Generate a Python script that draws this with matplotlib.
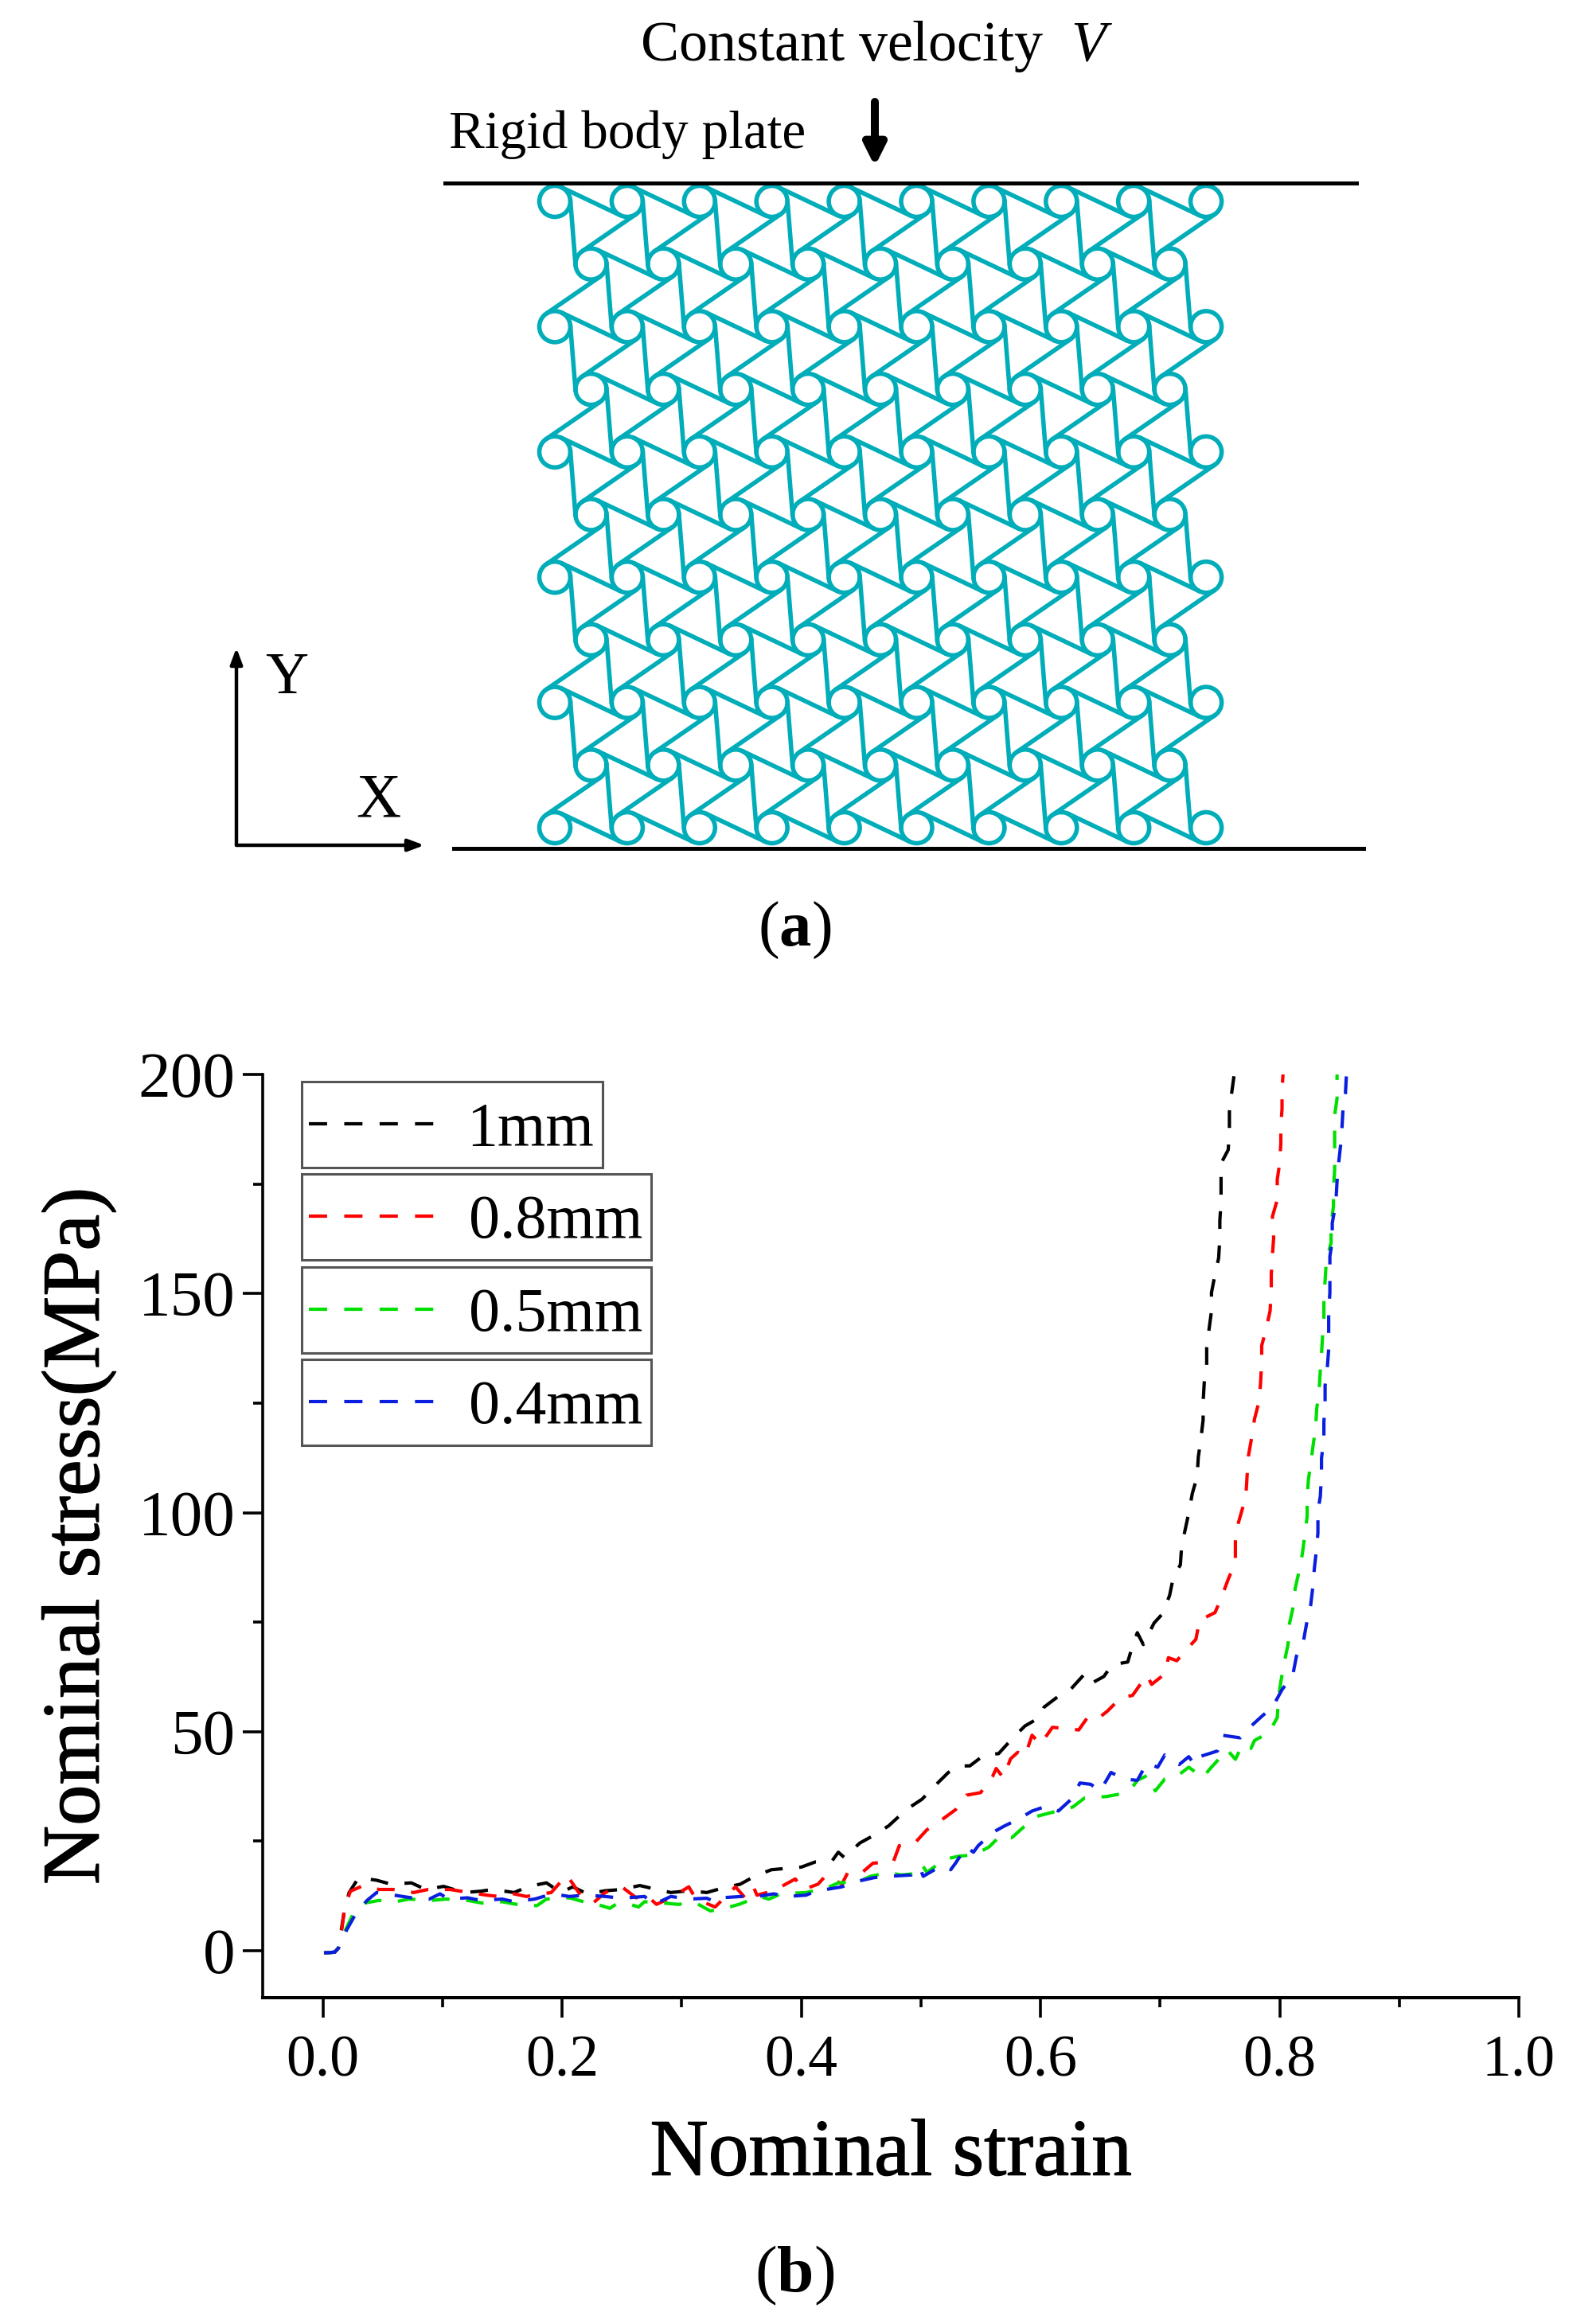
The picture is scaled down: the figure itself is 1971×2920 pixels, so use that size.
import numpy as np
import matplotlib
matplotlib.use('Agg')
import matplotlib.pyplot as plt
import matplotlib.patheffects as pe
from matplotlib.patches import Circle, Rectangle
from matplotlib.ticker import MultipleLocator

plt.rcParams['font.family'] = ['Liberation Serif', 'DejaVu Serif']
plt.rcParams['mathtext.fontset'] = 'custom'
plt.rcParams['mathtext.rm'] = 'Liberation Serif'
plt.rcParams['mathtext.it'] = 'Liberation Serif:italic'
plt.rcParams['mathtext.bf'] = 'Liberation Serif:bold'
plt.rcParams['lines.scale_dashes'] = False

W, H = 1971, 2920
TEAL = '#00adb9'

# curves
strain_1mm = [.001, .010, .013, .018, .022, .030, .045, .057, .074, .086, .101, .118, .132, .142, .160, .172, .187, .199,
              .209, .221, .236, .250, .265, .279, .291, .306, .321, .334, .349, .361, .375, .387, .400, .412, .426, .431,
              .436, .449, .459, .473, .483, .491, .501, .513, .523, .532, .541, .553, .565, .576, .587, .599, .603, .616,
              .625, .636, .641, .653, .660, .673, .676, .681, .686, .695, .702, .708, .711, .717, .718, .721, .724, .727,
              .731, .732, .734, .736, .736, .737, .739, .739, .741, .743, .743, .746, .749, .750, .750, .751, .751, .751,
              .757, .758, .758, .760, .762, .763]
stress_1mm = [-.5, -.3, .6, 9.1, 13.3, 16.7, 16.1, 15.2, 15.5, 14, 14.7, 13.3, 13.6, 14, 13.3, 14.7, 15.5, 13.3,
              14.6, 13, 13.7, 14, 14.9, 14, 13.3, 13.7, 13.3, 14.3, 15.2, 17, 18.5, 18.8, 19.1, 20.3, 20.6, 22.5,
              21.3, 24.6, 26.1, 28.5, 31, 32.8, 34.6, 38, 40.7, 42.2, 42.2, 44.7, 45, 48.3, 51.3, 53.2, 55.6, 58.3,
              59.6, 62.9, 60.8, 62.6, 65.3, 65.9, 68.7, 72.6, 69.9, 74.8, 76.9, 81.1, 85.1, 88.1, 92.1, 96.1, 99.9, 104.4,
              108.2, 112.7, 116.5, 121.1, 125.2, 129.8, 133.6, 137.7, 141.9, 146, 150.2, 154.4, 158.1, 162.7, 166.6, 171, 175.2, 179.7,
              182.8, 187.3, 191.5, 196, 200, 204]

strain_08mm = [.001, .010, .013, .016, .018, .023, .034, .047, .059, .076, .088, .106, .118, .137, .147, .160, .170, .191,
               .204, .214, .226, .236, .250, .262, .270, .279, .291, .306, .312, .328, .345, .353, .360, .363, .377, .395,
               .402, .414, .421, .434, .439, .451, .460, .477, .482, .495, .505, .517, .529, .538, .550, .560, .563, .569,
               .575, .581, .587, .593, .600, .610, .622, .632, .640, .649, .656, .667, .677, .689, .693, .704, .707, .714,
               .720, .730, .733, .746, .752, .757, .763, .763, .765, .769, .772, .773, .774, .777, .779, .783, .784, .785,
               .785, .789, .792, .793, .793, .794, .795, .794, .798, .798, .800, .801, .801, .802, .802, .803]
stress_08mm = [-.5, -.3, .6, 5.1, 9.4, 13.6, 14.9, 14, 14, 13.3, 14, 14, 13.5, 12.7, 12.4, 13, 12.4, 13.3,
               17.3, 13.3, 10.9, 13.3, 14.6, 12.1, 12.8, 10.6, 12.1, 14.6, 11.8, 10, 14.6, 12.1, 14.6, 12.7, 13.7, 16.4,
               14, 15.2, 17.3, 15.2, 17.9, 17.9, 20, 20.3, 24, 24.6, 27.6, 29.8, 32.2, 35.5, 36.1, 39.8, 41.6, 39.5,
               43.8, 45.3, 44.4, 49.2, 47.1, 51, 50.7, 50.4, 53.5, 53.2, 54.7, 57.7, 58.3, 62.9, 60.8, 63.2, 66.9, 66.2,
               68.1, 71.1, 75.4, 77.2, 81.1, 84.8, 88.7, 93.4, 97.2, 101, 104.8, 109.3, 113.1, 117.7, 121.4, 125.6, 129.4, 134.3,
               138.1, 142.3, 146, 150.6, 154.4, 158.9, 162.7, 167.6, 171.4, 176, 179.7, 184.3, 188, 192.2, 196.4, 200.9]

strain_05mm = [.001, .010, .013, .019, .025, .035, .047, .061, .072, .091, .103, .121, .133, .150, .162, .179, .187, .206,
               .218, .233, .240, .245, .257, .264, .269, .285, .297, .312, .324, .336, .348, .365, .373, .383, .404, .421,
               .431, .448, .458, .473, .483, .495, .501, .505, .520, .532, .545, .557, .567, .576, .587, .597, .627, .637,
               .655, .667, .676, .681, .690, .696, .704, .714, .724, .736, .741, .747, .756, .763, .769, .776, .779, .791,
               .798, .799, .801, .804, .807, .808, .811, .813, .816, .819, .823, .823, .824, .826, .828, .830, .831, .833,
               .834, .835, .836, .837, .837, .838, .839, .843, .843, .845, .845, .846, .846, .846, .846, .848, .848, .848]
stress_05mm = [-.5, -.3, .6, 4.8, 8.2, 10.9, 11.5, 11.2, 11.8, 11.5, 11.8, 11.5, 10.9, 11.2, 10.6, 10.3, 11.8, 12.1,
               11.2, 10.3, 9.7, 10.6, 10.6, 10, 11.2, 10.9, 10.6, 10.9, 9.1, 9.7, 10.6, 12.4, 11.8, 13, 13.3, 14.3,
               15.5, 15.8, 17, 17.9, 17.3, 17.6, 19.7, 17.9, 20.9, 21.6, 21.9, 23.7, 26.4, 25.8, 28.5, 30.7, 32.8, 34.9,
               35.2, 35.8, 37, 38.9, 40.1, 36.5, 39.2, 39.8, 41.9, 39.5, 41.3, 43.1, 45.9, 43.7, 47.1, 46.2, 48, 49.8,
               53.2, 57.7, 61.4, 66, 69.9, 74.4, 78.1, 82.7, 86.3, 90.6, 99.1, 102.9, 107.4, 111.2, 115.4, 119.2, 123.7, 127.9,
               132.4, 136.2, 140.8, 144.5, 149.1, 152.9, 157.4, 161.6, 165.7, 169.9, 174, 178.2, 182.4, 186.6, 190.7, 194.5, 199, 203]

strain_04mm = [.001, .010, .013, .020, .027, .037, .045, .074, .089, .098, .105, .121, .132, .150, .160, .177, .192, .206,
               .220, .236, .250, .269, .277, .291, .306, .321, .328, .333, .350, .363, .377, .388, .404, .412, .434, .446,
               .456, .461, .473, .492, .499, .502, .517, .525, .529, .538, .544, .548, .560, .570, .582, .593, .606, .615,
               .627, .633, .642, .650, .659, .670, .681, .689, .698, .704, .710, .716, .724, .729, .733, .748, .752, .767,
               .775, .785, .794, .802, .811, .814, .820, .823, .826, .828, .829, .831, .832, .832, .834, .835, .835, .837,
               .837, .838, .838, .840, .841, .841, .841, .842, .842, .842, .844, .844, .847, .848, .849, .851, .852, .853,
               .855, .856]
stress_04mm = [-.5, -.3, .6, 4.8, 8.2, 11.5, 13.3, 12.1, 11.8, 13, 11.8, 12.1, 11.5, 11.8, 11.2, 11.8, 13, 12.4,
               12.7, 12.4, 12, 12.4, 10.6, 12.4, 11.8, 12, 11.2, 12.1, 12.4, 12.4, 13, 12.4, 12.7, 13.6, 14.6, 15.8,
               16.4, 16.7, 17, 17.3, 19.1, 17, 19.4, 18.5, 20, 23.7, 22.5, 24, 27, 28.5, 30.1, 31.9, 33.1, 31.9,
               34.9, 38.3, 38, 36.5, 40.7, 39.2, 38.9, 42.8, 41.9, 44.7, 43.4, 42.5, 44.3, 42.5, 44.3, 45.6, 49.2, 48.6,
               51, 53.5, 55.6, 59.6, 62.9, 67.2, 70.8, 75.4, 79, 83.6, 87.2, 92.1, 95.4, 100.3, 103.7, 108.6, 112.4, 116.9,
               120.7, 125.2, 129, 133.6, 137.3, 141.9, 145.7, 150.2, 153.6, 158.5, 162, 166.1, 170.7, 175.6, 179, 183.9, 187.3, 192.2,
               195.6, 200.9]

labels = ['1mm', '0.8mm', '0.5mm', '0.4mm']
colors = ['#000000', '#ff0000', '#00e000', '#0a1ee0']
series = [(strain_1mm, stress_1mm), (strain_08mm, stress_08mm), (strain_05mm, stress_05mm), (strain_04mm, stress_04mm)]

fig = plt.figure(figsize=(W / 100, H / 100), dpi=100)

# panel (b)
x0, x1, y_top, y_bot = 330.4, 1908, 1350, 2510
ax = fig.add_axes([x0 / W, 1 - y_bot / H, (x1 - x0) / W, (y_bot - y_top) / H])
for (sx, sy), c in zip(series, colors):
    ax.plot(sx, sy, color=c, lw=3.0, linestyle=(0, (16, 15)))
ax.set_xlim(-0.05, 1.0)
ax.set_ylim(-10.7, 200)
ax.spines['top'].set_visible(False)
ax.spines['right'].set_visible(False)
ax.spines['left'].set_linewidth(2.6)
ax.spines['bottom'].set_linewidth(2.9)
ax.xaxis.set_major_locator(MultipleLocator(0.2))
ax.xaxis.set_minor_locator(MultipleLocator(0.1))
ax.yaxis.set_major_locator(MultipleLocator(50))
ax.yaxis.set_minor_locator(MultipleLocator(25))
ax.tick_params(which='major', length=18, width=2.6, direction='out')
ax.tick_params(which='minor', length=8.6, width=2.6, direction='out')
ax.tick_params(axis='x', labelsize=53, pad=16)
ax.tick_params(axis='y', labelsize=58.5, pad=7)
stroke = [pe.withStroke(linewidth=0.9, foreground='k')]
ax.set_xlabel('Nominal strain', fontsize=73, labelpad=27, path_effects=stroke)
ax.set_ylabel('Nominal stress(MPa)', fontsize=74, labelpad=20, path_effects=stroke)

# overlay in pixel coordinates for the schematic and the boxed legend
ov = fig.add_axes([0, 0, 1, 1])
ov.set_xlim(0, W)
ov.set_ylim(H, 0)
ov.axis('off')
ov.patch.set_alpha(0)

# lattice
n_rows = 11
pitch_x, pitch_y = 90.9, 78.7
left_x, top_y = 697.0, 253.0
r = 19.5
lw_cell = 4.0

centres = {}
for row in range(n_rows):
    n_col = 10 if row % 2 == 0 else 9
    for col in range(n_col):
        cx = left_x + col * pitch_x + (pitch_x / 2 if row % 2 else 0)
        centres[(row, col)] = (cx, top_y + row * pitch_y)
        ov.add_patch(Circle((cx, top_y + row * pitch_y), r, fill=False, ec=TEAL, lw=lw_cell))


def tangent(p, q):
    # internal tangent of two equal circles, same handedness for every edge
    p, q = np.array(p), np.array(q)
    d = np.hypot(*(q - p))
    u = (q - p) / d
    th = np.arcsin(2 * r / d)
    t = np.array([u[0] * np.cos(th) - u[1] * np.sin(th), u[0] * np.sin(th) + u[1] * np.cos(th)])
    n = np.array([t[1], -t[0]])
    a, b = p + r * n, q - r * n
    ov.plot([a[0], b[0]], [a[1], b[1]], color=TEAL, lw=lw_cell, solid_capstyle='round')


for (row, col), c in centres.items():
    if (row, col + 1) in centres:
        tangent(c, centres[(row, col + 1)])
    if row % 2 == 0:
        below = [(row + 1, col - 1), (row + 1, col)]
    else:
        below = [(row + 1, col), (row + 1, col + 1)]
    for key in below:
        if key in centres:
            tangent(c, centres[key])

# plates
ov.plot([559, 1704], [230, 230], color='k', lw=3.6)
ov.plot([570, 1713], [1066, 1066], color='k', lw=3.6)

# arrows
ov.annotate('', xy=(1099, 209), xytext=(1099, 128),
            arrowprops=dict(arrowstyle='-|>,head_width=0.8,head_length=1.6', color='k', lw=7.2, shrinkA=0, shrinkB=0))
ov.annotate('', xy=(297, 814), xytext=(297, 1062),
            arrowprops=dict(arrowstyle='-|>,head_width=0.45,head_length=1.2', color='k', lw=3.2, shrinkA=0, shrinkB=0))
ov.annotate('', xy=(533, 1062), xytext=(297, 1062),
            arrowprops=dict(arrowstyle='-|>,head_width=0.45,head_length=1.2', color='k', lw=3.2, shrinkA=0, shrinkB=0))

ov.text(804, 76, 'Constant velocity  $V$', fontsize=51.8, ha='left', va='baseline')
ov.text(564, 186, 'Rigid body plate', fontsize=48.4, ha='left', va='baseline')
ov.text(333, 871, 'Y', fontsize=54, ha='left', va='baseline')
ov.text(447, 1026, 'X', fontsize=56, ha='left', va='baseline')
ov.text(998, 1188, r'($\mathbf{a}$)', fontsize=58, ha='center', va='baseline')
ov.text(998, 2879, r'($\mathbf{b}$)', fontsize=60, ha='center', va='baseline')

# legend, one box per entry
box_right = [757, 818, 818, 818]
box_top = [1359, 1475, 1592, 1708]
box_h = 108
for lab, c, br, bt in zip(labels, colors, box_right, box_top):
    ov.add_patch(Rectangle((379, bt), br - 379, box_h, fill=False, ec='#555555', lw=2.2))
    ym = bt + box_h * 0.49
    ov.plot([388, 552], [ym, ym], color=c, lw=3.0, linestyle=(0, (16.5, 15.5)))
    ov.text(br - 11, bt + box_h * 0.74, lab, fontsize=56, ha='right', va='baseline')

fig.savefig('out.png', dpi=100, facecolor='white')
